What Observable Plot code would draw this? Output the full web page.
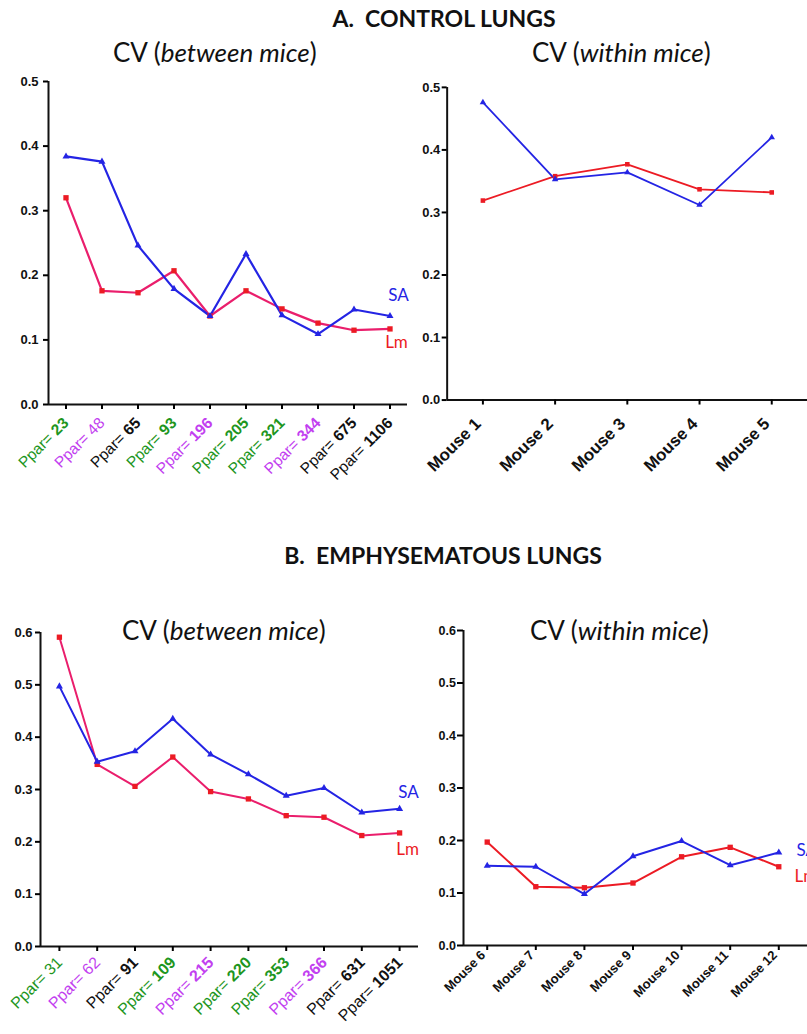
<!DOCTYPE html>
<html>
<head>
<meta charset="utf-8">
<script src="https://cdn.jsdelivr.net/npm/d3@7"></script>
<script src="https://cdn.jsdelivr.net/npm/@observablehq/plot@0.6"></script>
<style>
html, body { margin: 0; padding: 0; background: #fff; overflow: hidden; }
#page { position: relative; width: 807px; height: 1034px; overflow: hidden; }
.panel { position: absolute; }
.panel svg { overflow: hidden; }
.ttl { position: absolute; font-family: Lato, "Open Sans", sans-serif; color: #111; white-space: nowrap; line-height: 1; }
.head { font-weight: bold; font-size: 23px; transform: translateX(-50%); }
.sub { font-size: 26px; }
</style>
</head>
<body>
<div id="page">
  <div class="ttl head" style="left:444px;top:7px;">A.&nbsp; CONTROL LUNGS</div>
  <div class="ttl sub" style="left:113px;top:39px;">CV (<i>between mice</i>)</div>
  <div class="ttl sub" style="left:532px;top:39px;">CV (<i>within mice</i>)</div>
  <div class="ttl head" style="left:443px;top:544px;">B.&nbsp; EMPHYSEMATOUS LUNGS</div>
  <div id="pA1" class="panel" style="left:0px;top:70px;"></div>
  <div id="pA2" class="panel" style="left:400px;top:70px;"></div>
  <div id="pB1" class="panel" style="left:0px;top:600px;"></div>
  <div id="pB2" class="panel" style="left:400px;top:600px;"></div>
  <div class="ttl sub" style="left:122px;top:617px;">CV (<i>between mice</i>)</div>
  <div class="ttl sub" style="left:530px;top:617px;">CV (<i>within mice</i>)</div>
</div>
<script>
// ---------- DATA ----------
// A. Control lungs — CV between mice
const pparA = [23, 48, 65, 93, 196, 205, 321, 344, 675, 1106];
const pparAColor = ["green", "purple", "black", "green", "purple", "green", "green", "purple", "black", "black"];
const pparABold = [true, false, true, true, true, true, true, true, true, true];
const saA_between = [0.384, 0.376, 0.246, 0.179, 0.137, 0.233, 0.138, 0.109, 0.147, 0.137];
const lmA_between = [0.320, 0.176, 0.173, 0.207, 0.137, 0.176, 0.148, 0.126, 0.115, 0.117];
// A. Control lungs — CV within mice
const miceA = ["Mouse 1", "Mouse 2", "Mouse 3", "Mouse 4", "Mouse 5"];
const saA_within = [0.476, 0.353, 0.364, 0.312, 0.420];
const lmA_within = [0.319, 0.358, 0.377, 0.337, 0.332];
// B. Emphysematous lungs — CV between mice
const pparB = [31, 62, 91, 109, 215, 220, 353, 366, 631, 1051];
const pparBColor = ["green", "purple", "black", "green", "purple", "green", "green", "purple", "black", "black"];
const pparBBold = [false, false, true, true, true, true, true, true, true, true];
const saB_between = [0.497, 0.353, 0.373, 0.435, 0.367, 0.329, 0.288, 0.303, 0.256, 0.263];
const lmB_between = [0.591, 0.348, 0.306, 0.362, 0.296, 0.282, 0.250, 0.247, 0.212, 0.217];
// B. Emphysematous lungs — CV within mice
const miceB = ["Mouse 6", "Mouse 7", "Mouse 8", "Mouse 9", "Mouse 10", "Mouse 11", "Mouse 12"];
const saB_within = [0.152, 0.150, 0.098, 0.170, 0.199, 0.153, 0.177];
const lmB_within = [0.197, 0.112, 0.110, 0.119, 0.169, 0.187, 0.150];
// tick labels
const yTicksA = [0, 0.1, 0.2, 0.3, 0.4, 0.5];
const yTicksB = [0, 0.1, 0.2, 0.3, 0.4, 0.5, 0.6];
const seriesNames = ["SA", "Lm"];

// ---------- STYLE ----------
const BLUE = "#2424e4", PINK = "#ea1e6c", RED = "#ec1b24";
const LABEL_COLORS = {green: "#1e961e", purple: "#c23ff0", black: "#111111"};
const ARIAL = "Liberation Sans, Arial, sans-serif";
const LATO = "Lato, Open Sans, sans-serif";

function buildPanel(cfg) {
  const n = cfg.sa.length;
  const idx = d3.range(n);
  const saData = idx.map(i => ({i, v: cfg.sa[i]}));
  const lmData = idx.map(i => ({i, v: cfg.lm[i]}));
  const marks = [
    Plot.ruleY([0], {stroke: "#111", strokeWidth: 2, insetRight: cfg.ruleInsetRight || 0}),
    Plot.ruleX([-cfg.pad], {y1: 0, y2: cfg.yMax, stroke: "#111", strokeWidth: 2}),
    Plot.axisY({ticks: cfg.yTicks, tickFormat: d3.format(".1f"), tickSize: cfg.tickSizeY || 5, tickPadding: cfg.tickPad,
      fontSize: cfg.yFont, fontWeight: "bold", fontFamily: ARIAL, strokeWidth: 2, label: null, fill: "#111"}),
    Plot.axisX({ticks: idx, tickSize: 5, tickFormat: () => "", fill: "none", strokeWidth: 2, label: null}),
    Plot.line(lmData, {x: "i", y: "v", stroke: cfg.lmLine, strokeWidth: cfg.lw}),
    Plot.line(saData, {x: "i", y: "v", stroke: BLUE, strokeWidth: cfg.lw}),
    Plot.dot(lmData, {x: "i", y: "v", symbol: "square", fill: RED, r: cfg.sq || 3}),
    Plot.dot(saData, {x: "i", y: "v", symbol: "triangle", fill: BLUE, r: cfg.tri || 2.6})
  ];
  if (cfg.seriesLabels) {
    const s = cfg.seriesLabels;
    marks.push(Plot.text([saData[n - 1]], {x: "i", y: "v", text: () => seriesNames[0], fill: BLUE,
      fontSize: 17, fontFamily: LATO, dx: s.saDx, dy: s.saDy, textAnchor: s.anchor}));
    marks.push(Plot.text([lmData[n - 1]], {x: "i", y: "v", text: () => seriesNames[1], fill: RED,
      fontSize: 17, fontFamily: LATO, dx: s.lmDx, dy: s.lmDy, textAnchor: s.anchor}));
  }
  const fs = cfg.labelFont;
  if (cfg.ppar) {
    const cat = idx.map(i => ({i, num: String(cfg.ppar[i]), c: LABEL_COLORS[cfg.pparColor[i]], b: cfg.pparBold[i]}));
    const common = {x: "i", frameAnchor: "bottom", rotate: -45, textAnchor: "end", fill: "c", fontSize: fs, fontFamily: ARIAL};
    marks.push(Plot.text(cat.filter(d => d.b), {...common, text: "num", fontWeight: "bold", dx: cfg.ldx, dy: cfg.ldy}));
    marks.push(Plot.text(cat.filter(d => !d.b), {...common, text: "num", dx: cfg.ldx, dy: cfg.ldy}));
    for (const nd of [2, 3, 4]) {
      const sub = cat.filter(d => d.num.length === nd);
      if (!sub.length) continue;
      const w = (nd * 0.556 + 0.278) * fs;
      marks.push(Plot.text(sub, {...common, text: () => "Ppar=", dx: cfg.ldx - 0.7071 * w, dy: cfg.ldy + 0.7071 * w}));
    }
  } else {
    const cat = idx.map(i => ({i, label: cfg.mice[i]}));
    marks.push(Plot.text(cat, {x: "i", frameAnchor: "bottom", text: "label", rotate: -45, textAnchor: "end",
      fill: "#111", fontSize: fs, fontWeight: "bold", fontFamily: ARIAL, dx: cfg.ldx, dy: cfg.ldy}));
  }
  const chart = Plot.plot({
    width: cfg.width, height: cfg.height,
    marginLeft: cfg.mL, marginRight: cfg.mR, marginTop: cfg.mT, marginBottom: cfg.mB,
    style: {background: "transparent", overflow: "hidden"},
    color: {type: "identity"},
    x: {type: "linear", domain: [-cfg.pad, n - 1 + cfg.pad]},
    y: {domain: [0, cfg.yMax]},
    marks
  });
  document.getElementById(cfg.id).appendChild(chart);
}

buildPanel({id: "pA1", width: 420, height: 430, mL: 48, mR: 13, mT: 11, mB: 96, pad: 0.486,
  yMax: 0.5, yTicks: yTicksA, tickPad: 5, yFont: 13, sa: saA_between, lm: lmA_between, lmLine: PINK, lw: 2.2,
  ppar: pparA, pparColor: pparAColor, pparBold: pparABold, labelFont: 15.5, ldx: 3.5, ldy: 19.5,
  seriesLabels: {saDx: 8.5, saDy: -20.5, lmDx: 6.5, lmDy: 13.6, anchor: "middle"}});

buildPanel({id: "pA2", width: 410, height: 430, mL: 47, mR: 0, mT: 17, mB: 98, pad: 0.495,
  yMax: 0.5, yTicks: yTicksA, tickPad: 2, yFont: 13, sa: saA_within, lm: lmA_within, lmLine: RED, lw: 1.8,
  mice: miceA, labelFont: 17, ldx: -1, ldy: 25, sq: 2.6, tri: 2.4});

buildPanel({id: "pB1", width: 420, height: 434, mL: 40, mR: 2, mT: 32, mB: 88, pad: 0.5,
  yMax: 0.6, yTicks: yTicksB, tickPad: 3, yFont: 13, sa: saB_between, lm: lmB_between, lmLine: PINK, lw: 2,
  ppar: pparB, pparColor: pparBColor, pparBold: pparBBold, labelFont: 16, ldx: 4, ldy: 17,
  seriesLabels: {saDx: 9, saDy: -16, lmDx: 8, lmDy: 17, anchor: "middle"}});

buildPanel({id: "pB2", width: 407, height: 434, mL: 63, mR: 5, mT: 30, mB: 89, pad: 0.488, ruleInsetRight: -5,
  yMax: 0.6, yTicks: yTicksB, tickPad: 1.5, tickSizeY: 6, yFont: 12.5, sa: saB_within, lm: lmB_within, lmLine: RED, lw: 2,
  mice: miceB, labelFont: 13, ldx: -1, ldy: 10.5,
  seriesLabels: {saDx: 17.7, saDy: -2, lmDx: 15.7, lmDy: 10, anchor: "start"}});
</script>
</body>
</html>
